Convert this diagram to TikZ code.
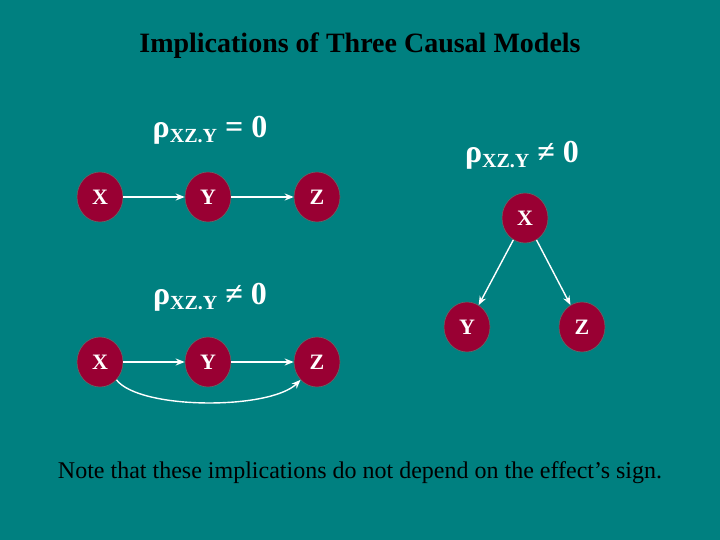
\documentclass[tikz,border=0pt]{standalone}
\usepackage{fontspec}
\setmainfont{Liberation Serif}
\usetikzlibrary{arrows.meta,shapes.geometric}
\definecolor{bg}{HTML}{008080}
\definecolor{nd}{HTML}{990033}
\begin{document}
\begin{tikzpicture}[x=1pt,y=-1pt,
  var/.style={ellipse,fill=nd,draw=black!60,line width=0.6pt,minimum width=46pt,minimum height=50pt,inner sep=0pt,text=white,font=\bfseries\fontsize{22}{22}\selectfont},
  arr/.style={draw=white,line width=1.4pt,-{Stealth[length=9pt,width=7pt]}},
  lab/.style={text=white,font=\bfseries\fontsize{32}{32}\selectfont}]
\path[fill=bg,use as bounding box] (0,0) rectangle (720,540);
\node[text=black,font=\bfseries\fontsize{28}{28}\selectfont] (title) at (360,46) {Implications of Three Causal Models};
\node[lab] (r1) at (210,130) {ρ\raisebox{-5pt}{\fontsize{20}{20}\selectfont XZ.Y} = 0};
\node[lab] (r2) at (210,297) {ρ\raisebox{-5pt}{\fontsize{20}{20}\selectfont XZ.Y} ≠ 0};
\node[lab] (r3) at (522,155) {ρ\raisebox{-5pt}{\fontsize{20}{20}\selectfont XZ.Y} ≠ 0};
\node[var] (x1) at (100,197) {X};
\node[var] (y1) at (208,197) {Y};
\node[var] (z1) at (317,197) {Z};
\node[var] (x2) at (100,362) {X};
\node[var] (y2) at (208,362) {Y};
\node[var] (z2) at (317,362) {Z};
\node[var] (x3) at (525,218) {X};
\node[var] (y3) at (467,327) {Y};
\node[var] (z3) at (582,327) {Z};
\draw[arr] (x1) -- (y1);
\draw[arr] (y1) -- (z1);
\draw[arr] (x2) -- (y2);
\draw[arr] (y2) -- (z2);
\draw[arr] (x2.south east) .. controls (140,410) and (270,410) .. (z2.south west);
\draw[arr] (x3) -- (y3);
\draw[arr] (x3) -- (z3);
\node[text=black,font=\fontsize{24}{24}\selectfont] (note) at (360,473) {Note that these implications do not depend on the effect’s sign.};
\end{tikzpicture}
\end{document}
